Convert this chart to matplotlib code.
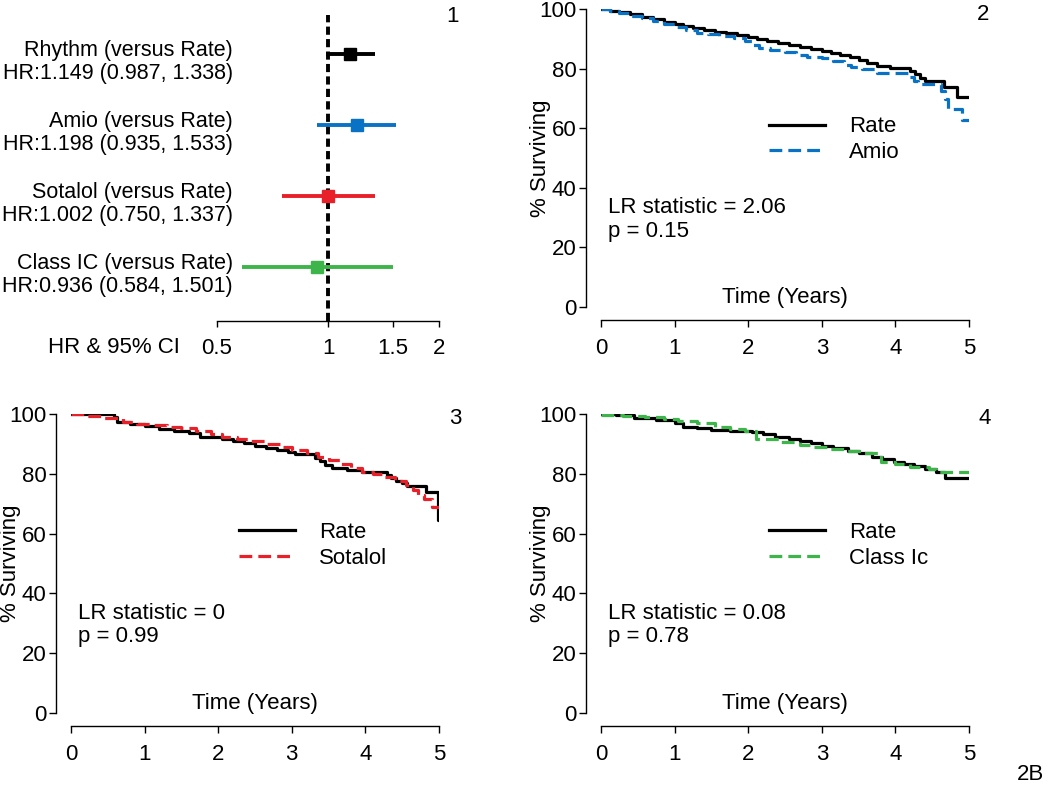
import matplotlib.pyplot as plt
import matplotlib.transforms as mtransforms

plt.rcParams['font.family'] = ['Liberation Sans', 'DejaVu Sans']
plt.rcParams['font.size'] = 16

BLUE = '#0a72c4'
RED = '#e8202a'
GREEN = '#3db54a'

# forest plot data
hr_names = ['Rhythm (versus Rate)', 'Amio (versus Rate)',
            'Sotalol (versus Rate)', 'Class IC (versus Rate)']
hr = [1.149, 1.198, 1.002, 0.936]
hr_lo = [0.987, 0.935, 0.750, 0.584]
hr_hi = [1.338, 1.533, 1.337, 1.501]
hr_colors = ['black', BLUE, RED, GREEN]
hr_ticks = [0.5, 1, 1.5, 2]

# Kaplan-Meier curves (years, % surviving)
rate2_t = [0, 0.12, 0.25, 0.4, 0.55, 0.7, 0.85, 1.0, 1.12, 1.25, 1.4, 1.55, 1.7, 1.85,
           2.0, 2.12, 2.25, 2.4, 2.55, 2.7, 2.85, 3.0, 3.12, 3.25, 3.38, 3.5, 3.62, 3.75,
           3.92, 4.2, 4.27, 4.33, 4.4, 4.66, 4.84, 5.0]
rate2_s = [100, 99.4, 98.9, 98.2, 97.4, 96.6, 95.8, 95.1, 94.4, 93.6, 92.9, 92.4, 91.8, 91.2,
           90.5, 89.8, 89.2, 88.5, 87.8, 87.2, 86.6, 85.9, 85.3, 84.6, 83.8, 82.8, 81.8, 81.0,
           80.2, 79.2, 78.2, 77.0, 75.8, 73.7, 70.4, 70.4]
amio_t = [0, 0.12, 0.25, 0.4, 0.55, 0.7, 0.85, 1.0, 1.15, 1.3, 1.45, 1.6, 1.8, 1.95, 2.05,
          2.15, 2.3, 2.5, 2.65, 2.8, 3.0, 3.15, 3.3, 3.4, 3.55, 3.75, 4.18, 4.25, 4.3, 4.62,
          4.67, 4.72, 4.9, 5.0]
amio_s = [100, 99.3, 98.6, 97.8, 97.0, 96.0, 95.1, 94.1, 93.1, 92.1, 91.6, 91.0, 90.4, 89.3,
          88.0, 86.8, 86.1, 85.6, 84.7, 84.0, 83.4, 82.7, 81.3, 80.5, 79.8, 78.6, 77.2, 76.0,
          75.0, 72.4, 69.8, 66.6, 62.8, 62.8]

rate3_t = [0, 0.58, 0.62, 0.8, 1.0, 1.2, 1.4, 1.6, 1.75, 2.05, 2.2, 2.35, 2.5, 2.65, 2.8,
           2.95, 3.05, 3.32, 3.38, 3.45, 3.55, 3.75, 3.95, 4.3, 4.35, 4.42, 4.5, 4.56, 4.82,
           4.98, 5.0]
rate3_s = [100, 99.1, 97.4, 96.6, 95.9, 95.1, 94.3, 93.5, 92.4, 91.6, 90.9, 90.2, 89.4, 88.6,
           87.9, 87.2, 86.6, 85.4, 84.2, 83.0, 82.0, 81.3, 80.5, 79.6, 78.5, 77.6, 76.8, 75.9,
           73.8, 64.5, 64.5]
sotalol_t = [0, 0.2, 0.45, 0.7, 0.9, 1.1, 1.3, 1.5, 1.7, 1.9, 2.05, 2.25, 2.45, 2.65, 2.85,
             3.0, 3.2, 3.35, 3.5, 3.65, 3.8, 3.95, 4.1, 4.25, 4.4, 4.55, 4.65, 4.72, 4.8, 4.9,
             5.0]
sotalol_s = [100, 99.3, 98.7, 97.4, 96.8, 96.3, 95.7, 95.2, 94.3, 93.4, 92.4, 91.8, 91.1, 90.1,
             89.0, 88.0, 86.8, 85.5, 84.5, 83.2, 82.0, 80.7, 79.9, 79.0, 77.6, 76.2, 74.5, 73.0,
             71.6, 69.0, 69.0]

rate4_t = [0, 0.2, 0.45, 0.75, 1.0, 1.12, 1.3, 1.5, 1.75, 2.05, 2.2, 2.36, 2.55, 2.7, 2.85,
           3.0, 3.15, 3.35, 3.5, 3.68, 3.82, 3.98, 4.12, 4.25, 4.4, 4.55, 4.67, 5.0]
rate4_s = [100, 99.5, 98.6, 98.1, 96.9, 95.8, 95.2, 94.6, 94.3, 93.9, 93.2, 92.4, 91.8, 90.9,
           90.2, 89.3, 88.6, 87.6, 86.8, 85.7, 85.1, 84.0, 83.3, 82.6, 81.5, 80.7, 78.5, 78.5]
classic_t = [0, 0.3, 0.6, 0.85, 1.05, 1.3, 1.55, 1.75, 1.96, 2.1, 2.45, 2.7, 2.86, 3.1, 3.3,
             3.55, 3.8, 4.0, 4.2, 4.45, 4.55, 5.0]
classic_s = [99.7, 99.3, 98.9, 98.4, 97.8, 96.9, 95.8, 95.1, 94.3, 91.5, 90.7, 89.8, 89.1, 88.4,
             87.6, 86.8, 84.0, 83.4, 82.4, 81.5, 80.6, 80.6]

fig = plt.figure(figsize=(10.5, 7.98), dpi=100)

# ---- panel 1: hazard ratios ----
ax1 = fig.add_axes([0.2067, 0.5977, 0.2114, 0.3835])
rows = list(range(1, len(hr) + 1))
ax1.axvline(1, color='black', lw=2.8, dashes=(2.1, 1.1), zorder=1)
for y, h, lo, hi, c in zip(rows, hr, hr_lo, hr_hi, hr_colors):
    ax1.hlines(y, lo, hi, color=c, lw=2.8, zorder=2)
    ax1.plot(h, y, 's', color=c, ms=8.5, zorder=3)
ax1.set_xscale('log')
ax1.set_xlim(0.5, 2)
ax1.set_ylim(4.76, 0.45)
ax1.set_xticks(hr_ticks)
ax1.set_xticklabels([f'{v:g}' for v in hr_ticks])
ax1.minorticks_off()
ax1.set_yticks([])
for s in ['top', 'right', 'left']:
    ax1.spines[s].set_visible(False)
ax1.spines['bottom'].set_linewidth(1)
ax1.tick_params(axis='x', direction='out', length=4, width=1, labelsize=16, pad=8)
trans = mtransforms.blended_transform_factory(ax1.transAxes, ax1.transData)
for y, n, h, lo, hi in zip(rows, hr_names, hr, hr_lo, hr_hi):
    ax1.text(0.072, y + 0.03, n, transform=trans, ha='right', va='baseline', fontsize=15.5)
    ax1.text(0.072, y + 0.355, f'HR:{h:.3f} ({lo:.3f}, {hi:.3f})', transform=trans,
             ha='right', va='baseline', fontsize=15.5)
ax1.text(-0.167, -0.085, 'HR & 95% CI', transform=ax1.transAxes, ha='right', va='center',
         fontsize=16)


# ---- KM panels ----
def km_panel(rect, t_a, s_a, t_b, s_b, color_b, name_b, lr, p):
    ax = fig.add_axes(rect)
    ax.step(t_a, s_a, where='post', color='black', lw=2.3, label='Rate')
    ax.step(t_b, s_b, where='post', color=color_b, lw=2.3, dashes=(4, 1.9), label=name_b)
    ax.set_xlim(0, 5)
    ax.set_ylim(0, 100)
    ax.set_xticks(range(6))
    ax.set_yticks(range(0, 101, 20))
    for s in ['top', 'right']:
        ax.spines[s].set_visible(False)
    ax.spines['left'].set_position(('outward', 10.8))
    ax.spines['bottom'].set_position(('outward', 9.4))
    for s in ['left', 'bottom']:
        ax.spines[s].set_linewidth(1)
    ax.tick_params(direction='out', length=5, width=1, labelsize=16)
    ax.tick_params(axis='x', pad=8)
    ax.tick_params(axis='y', pad=2)
    ax.set_ylabel('% Surviving', fontsize=16, va='center')
    ax.yaxis.set_label_coords(-0.165, 0.5)
    ax.text(2.5, 1.3, 'Time (Years)', ha='center', va='baseline', fontsize=16)
    ax.text(0.1, 31.6, f'LR statistic = {lr}', ha='left', va='baseline', fontsize=16)
    ax.text(0.1, 23.6, f'p = {p}', ha='left', va='baseline', fontsize=16)
    ax.legend(loc='upper left', bbox_to_anchor=(0.4565, 0.64), frameon=False,
              borderpad=0, borderaxespad=0, handlelength=2.5, handletextpad=1.1,
              labelspacing=0.22, fontsize=16)
    return ax


km_panel([0.5724, 0.6153, 0.3505, 0.3734], rate2_t, rate2_s, amio_t, amio_s,
         BLUE, 'Amio', '2.06', '0.15')
km_panel([0.0676, 0.1065, 0.3505, 0.3747], rate3_t, rate3_s, sotalol_t, sotalol_s,
         RED, 'Sotalol', '0', '0.99')
km_panel([0.5724, 0.1065, 0.3505, 0.3747], rate4_t, rate4_s, classic_t, classic_s,
         GREEN, 'Class Ic', '0.08', '0.78')

# panel numbers
for label, x, y in [('1', 452, 16), ('2', 983, 14), ('3', 455, 418), ('4', 985, 418)]:
    fig.text(x / 1050, 1 - y / 798, label, ha='center', va='center', fontsize=16)
fig.text(1030 / 1050, 1 - 775 / 798, '2B', ha='center', va='center', fontsize=16)

fig.savefig('out.png', dpi=100)
